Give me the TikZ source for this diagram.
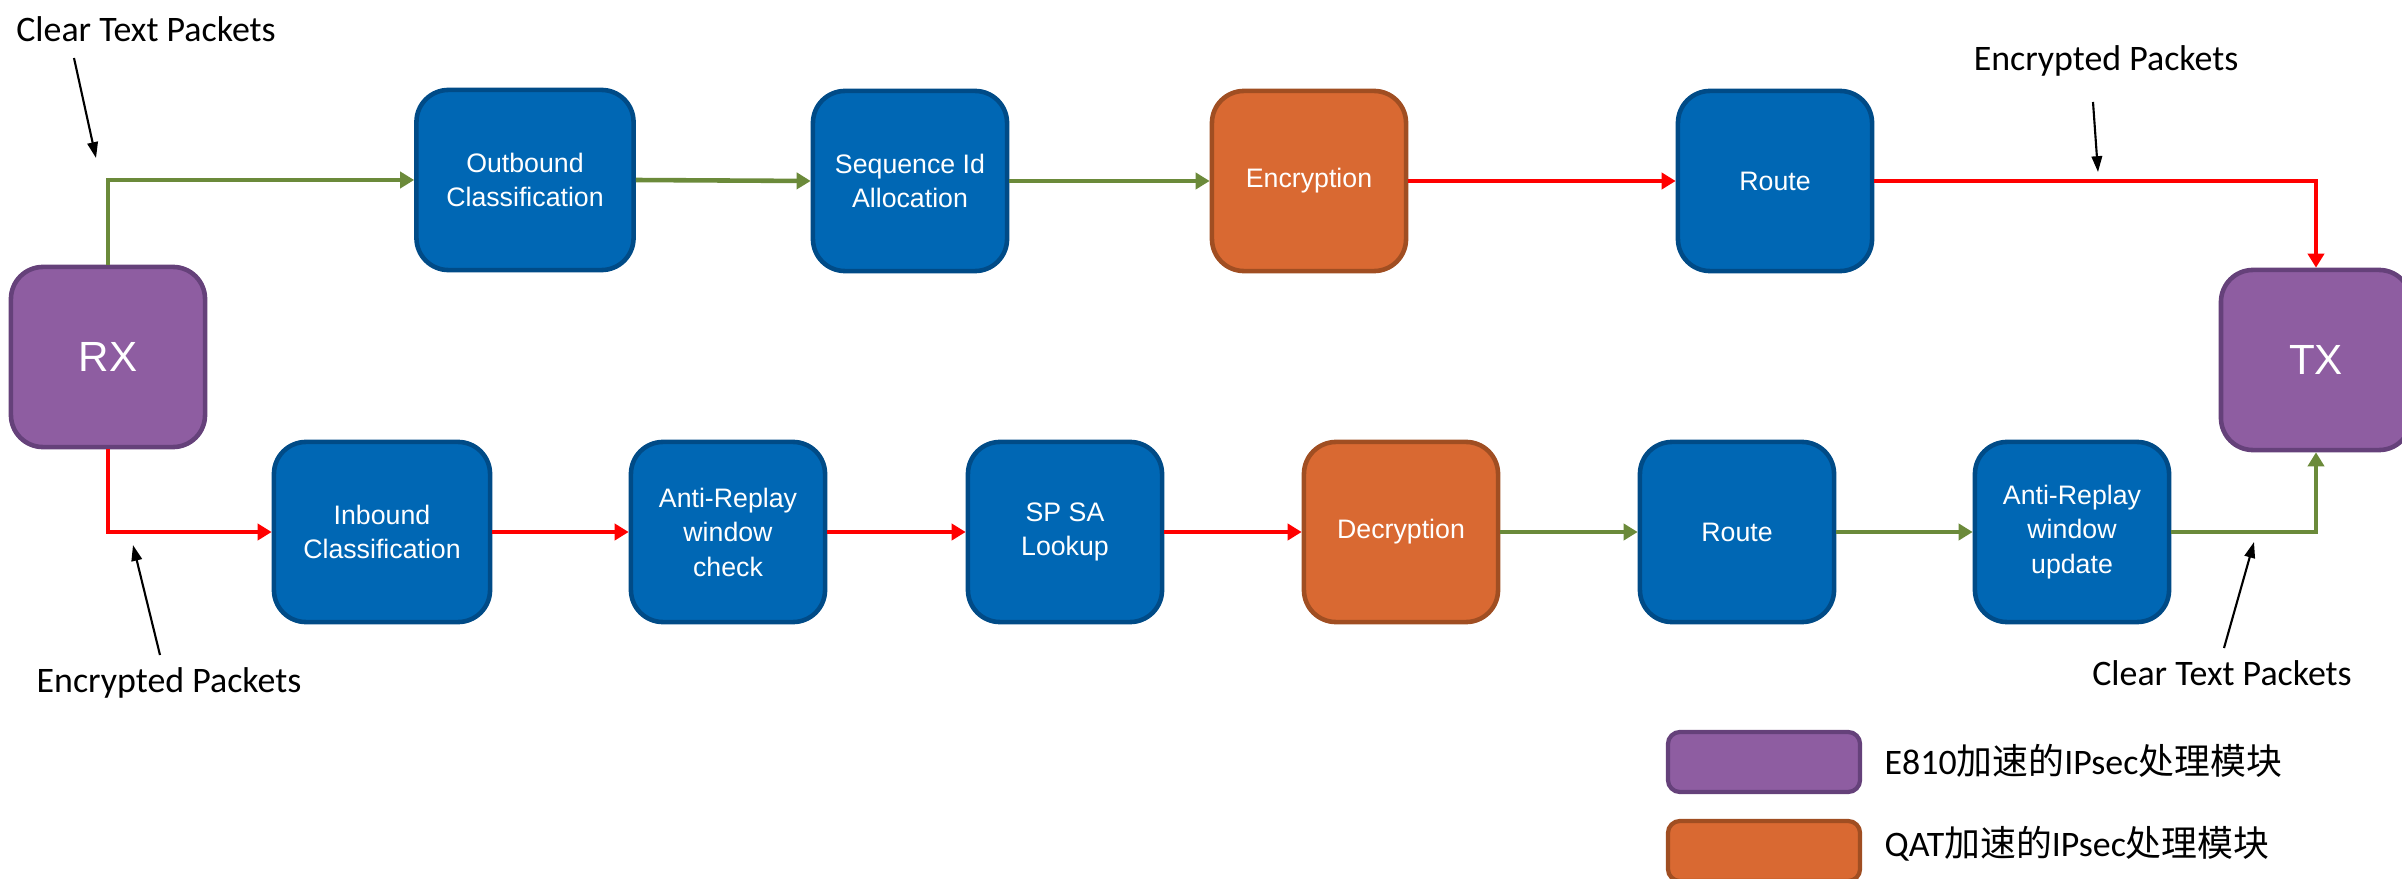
\documentclass[tikz,border=0pt]{standalone}
\usepackage{fontspec}
\setmainfont{Carlito}
\newfontfamily\boxfont{Liberation Sans}
\newfontfamily\cjk{Noto Sans CJK SC}
\usetikzlibrary{arrows.meta}
\definecolor{bluefill}{HTML}{0067B4}
\definecolor{blueline}{HTML}{004B87}
\definecolor{purplefill}{HTML}{8E5DA1}
\definecolor{purpleline}{HTML}{65417A}
\definecolor{orangefill}{HTML}{D96932}
\definecolor{orangeline}{HTML}{A04E22}
\definecolor{clearline}{HTML}{6B8A3A}
\definecolor{cryptline}{HTML}{FF0000}
\begin{document}
\begin{tikzpicture}[x=0.01cm,y=-0.01cm,
	block/.style={draw, line width=1.3pt, rounded corners=0.32cm, minimum width=1.94cm, minimum height=1.8cm, text=white, align=center, inner sep=0pt, font=\boxfont\fontsize{7.6}{9.8}\selectfont},
	blueblock/.style={block, fill=bluefill, draw=blueline},
	qatblock/.style={block, fill=orangefill, draw=orangeline},
	nicblock/.style={block, fill=purplefill, draw=purpleline, font=\boxfont\fontsize{12}{14}\selectfont},
	legendbox/.style={draw, line width=1.2pt, rounded corners=0.12cm, minimum width=1.92cm, minimum height=0.6cm},
	note/.style={font=\fontsize{10.2}{12}\selectfont},
	clear/.style={draw=clearline, line width=1.3pt, -{Triangle[length=4pt,width=4.6pt]}},
	crypt/.style={draw=cryptline, line width=1.3pt, -{Triangle[length=4pt,width=4.6pt]}},
	pointer/.style={line width=0.6pt, -{Triangle[length=4.5pt,width=3pt]}}]
	\useasboundingbox (0,0) rectangle (2402,879);
	\node[nicblock] (rx) at (108,357) {RX};
	\node[nicblock, minimum width=1.9cm] (tx) at (2316,360) {TX};
	\node[blueblock, minimum width=2.17cm] (obc) at (525,180) {Outbound\\Classification};
	\node[blueblock] (seq) at (910,181) {Sequence Id\\Allocation};
	\node[qatblock] (enc) at (1309,181) {Encryption};
	\node[blueblock] (rte1) at (1775,181) {Route};
	\node[blueblock, minimum width=2.16cm] (ibc) at (382,532) {Inbound\\Classification};
	\node[blueblock] (arc) at (728,532) {Anti-Replay\\window\\check};
	\node[blueblock] (spsa) at (1065,532) {SP SA\\Lookup};
	\node[qatblock] (dec) at (1401,532) {Decryption};
	\node[blueblock] (rte2) at (1737,532) {Route};
	\node[blueblock] (aru) at (2072,532) {Anti-Replay\\window\\update};
	\node[note] (ctp1) at (146,29) {Clear Text Packets};
	\node[note] (ep1) at (169,683) {Encrypted Packets};
	\node[note] (ep2) at (2106,61) {Encrypted Packets};
	\node[note] (ctp2) at (2222,673) {Clear Text Packets};
	\coordinate (p1s) at (74,58);
	\coordinate (p1e) at (96,158);
	\coordinate (p2s) at (160,655);
	\coordinate (p2e) at (133,545);
	\coordinate (p3s) at (2093,102);
	\coordinate (p3e) at (2098,172);
	\coordinate (p4s) at (2224,648);
	\coordinate (p4e) at (2254,542);
	\node[legendbox, fill=purplefill, draw=purpleline] (lg1) at (1764,762) {};
	\node[legendbox, fill=orangefill, draw=orangeline] (lg2) at (1764,851) {};
	\node[note, anchor=west, inner sep=0pt] (lt1) at (1884,761) {E810{\cjk 加速的}IPsec{\cjk 处理模块}};
	\node[note, anchor=west, inner sep=0pt] (lt2) at (1884,844) {QAT{\cjk 加速的}IPsec{\cjk 处理模块}};
	\draw[clear] (rx.north) |- (obc.west);
	\draw[clear] (obc.east) -- (seq.west);
	\draw[clear] (seq.east) -- (enc.west);
	\draw[crypt] (enc.east) -- (rte1.west);
	\draw[crypt] (rte1.east) -| (tx.north);
	\draw[crypt] (rx.south) |- (ibc.west);
	\draw[crypt] (ibc.east) -- (arc.west);
	\draw[crypt] (arc.east) -- (spsa.west);
	\draw[crypt] (spsa.east) -- (dec.west);
	\draw[clear] (dec.east) -- (rte2.west);
	\draw[clear] (rte2.east) -- (aru.west);
	\draw[clear] (aru.east) -| (tx.south);
	\draw[pointer] (p1s) -- (p1e);
	\draw[pointer] (p2s) -- (p2e);
	\draw[pointer] (p3s) -- (p3e);
	\draw[pointer] (p4s) -- (p4e);
\end{tikzpicture}
\end{document}
